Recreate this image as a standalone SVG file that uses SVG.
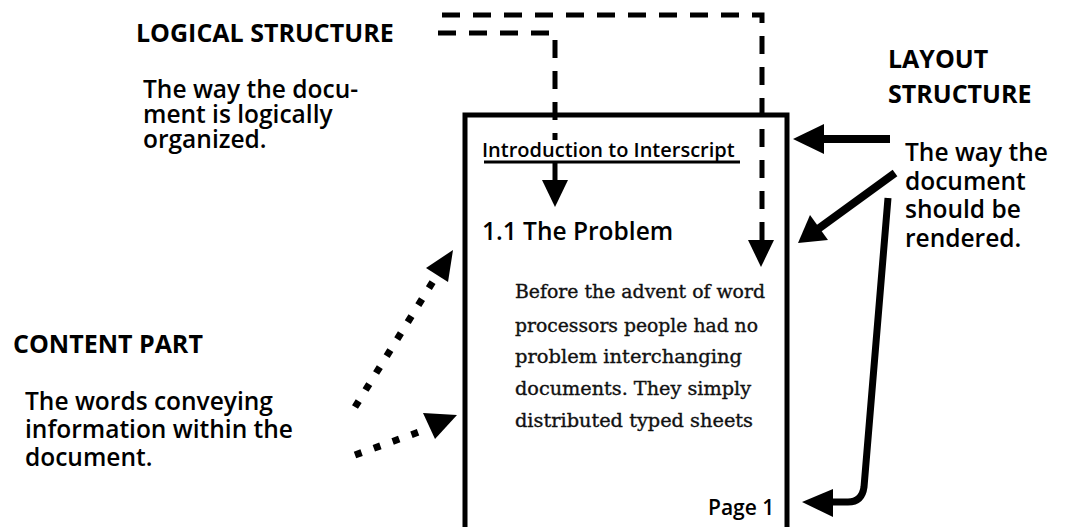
<svg xmlns="http://www.w3.org/2000/svg" width="1067" height="527" viewBox="0 0 1067 527">
<style>
.lbl{font-family:"Open Sans","Liberation Sans",sans-serif;font-weight:600;fill:#000}
.hd{font-size:25px;font-weight:700}
.tx{font-size:24.5px}
.body{font-family:"DejaVu Serif","Liberation Serif",serif;font-size:18px;fill:#111;stroke:#111;stroke-width:0.35}
.dash{fill:none;stroke:#000;stroke-width:5;stroke-dasharray:18 13}
.solid{fill:none;stroke:#000;stroke-width:7}
.dot{fill:none;stroke:#000;stroke-width:7;stroke-dasharray:7 13}
</style>
<rect width="1067" height="527" fill="#fff"/>
<g id="logical-label">
<text class="lbl hd" x="136" y="42">LOGICAL STRUCTURE</text>
<text class="lbl tx" x="143" y="98">The way the docu-</text>
<text class="lbl tx" x="143" y="123">ment is logically</text>
<text class="lbl tx" x="143" y="148">organized.</text>
</g>
<g id="layout-label">
<text class="lbl hd" x="888" y="68">LAYOUT</text>
<text class="lbl hd" x="888" y="103">STRUCTURE</text>
<text class="lbl tx" x="905" y="161">The way the</text>
<text class="lbl tx" x="905" y="190">document</text>
<text class="lbl tx" x="905" y="218">should be</text>
<text class="lbl tx" x="905" y="247">rendered.</text>
</g>
<g id="content-label">
<text class="lbl hd" x="13" y="353">CONTENT PART</text>
<text class="lbl tx" x="25" y="410">The words conveying</text>
<text class="lbl tx" x="25" y="438">information within the</text>
<text class="lbl tx" x="25" y="466">document.</text>
</g>
<g id="document">
<path d="M465 540 V115 H787 V540" fill="none" stroke="#000" stroke-width="5"/>
<text class="lbl" x="482" y="157" font-size="20" font-weight="700">Introduction to Interscript</text>
<line x1="484" y1="162" x2="740" y2="162" stroke="#000" stroke-width="3"/>
<text class="lbl" x="482" y="240" font-size="24.5" font-weight="700">1.1 The Problem</text>
<text class="body" x="515" y="298" textLength="250" lengthAdjust="spacingAndGlyphs">Before the advent of word</text>
<text class="body" x="515" y="332" textLength="243" lengthAdjust="spacingAndGlyphs">processors people had no</text>
<text class="body" x="515" y="363" textLength="227" lengthAdjust="spacingAndGlyphs">problem interchanging</text>
<text class="body" x="515" y="395" textLength="236" lengthAdjust="spacingAndGlyphs">documents. They simply</text>
<text class="body" x="515" y="427" textLength="238" lengthAdjust="spacingAndGlyphs">distributed typed sheets</text>
<text class="lbl" x="708" y="515" font-size="21">Page 1</text>
</g>
<g id="connectors">
<path class="dash" d="M442 15 H762 V245"/>
<polygon points="748,240 774,240 761,267"/>
<path class="dash" d="M438 33 H555 V140"/>
<line x1="555" y1="162" x2="555" y2="185" stroke="#000" stroke-width="5"/>
<polygon points="542,180 568,180 555,207"/>
<line x1="890" y1="139" x2="820" y2="139" stroke="#000" stroke-width="8"/>
<polygon points="793,139 824,124 824,154"/>
<line x1="895" y1="173" x2="818" y2="229" stroke="#000" stroke-width="8"/>
<polygon points="798,243 810,215 828,240"/>
<path class="solid" d="M888 198 L864 487 Q862 502 848 502 H830"/>
<polygon points="802,502 833,489 833,517"/>
<path class="dot" d="M355 407 L437 275"/>
<polygon points="453,250 426,268 448,282"/>
<path class="dot" d="M355 455 L430 428"/>
<polygon points="457,415 423,413 435,439"/>
</g>
</svg>
